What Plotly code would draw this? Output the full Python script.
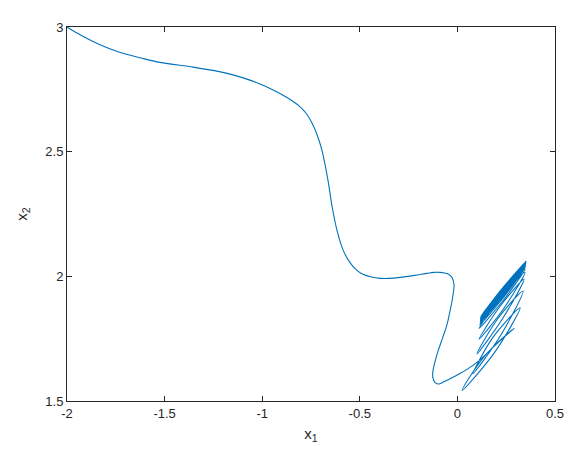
import plotly.graph_objects as go

# trajectory: approach path, then the narrow loops settling
x1_path = [-2.0, -1.933, -1.831, -1.728, -1.626, -1.524, -1.354, -1.232, -1.150, -1.063,
           -1.011, -0.960, -0.893, -0.847, -0.806, -0.776, -0.745, -0.719, -0.694, -0.663,
           -0.642, -0.617, -0.586, -0.550, -0.520, -0.484, -0.44, -0.397, -0.35, -0.294,
           -0.22, -0.156, -0.12, -0.089, -0.050, -0.028, -0.017, -0.022, -0.028, -0.040,
           -0.053, -0.076, -0.099, -0.114, -0.125, -0.126, -0.115, -0.095, -0.074, -0.035,
           0.013, 0.055, 0.100, 0.150, 0.200, 0.250, 0.290]
x2_path = [3.0, 2.969, 2.929, 2.898, 2.877, 2.858, 2.839, 2.823, 2.808, 2.787,
           2.771, 2.753, 2.726, 2.704, 2.680, 2.655, 2.615, 2.568, 2.506, 2.385,
           2.280, 2.185, 2.106, 2.055, 2.028, 2.008, 1.997, 1.992, 1.992, 1.996,
           2.004, 2.012, 2.016, 2.016, 2.010, 1.996, 1.965, 1.930, 1.898, 1.853,
           1.807, 1.752, 1.701, 1.660, 1.622, 1.595, 1.575, 1.568, 1.575, 1.590,
           1.610, 1.630, 1.655, 1.690, 1.730, 1.765, 1.791]

x1_loops = [0.140, 0.024, 0.190, 0.321, 0.183, 0.080, 0.222, 0.336, 0.204, 0.100,
            0.231, 0.341, 0.216, 0.111, 0.239, 0.346, 0.218, 0.111, 0.236, 0.348,
            0.224, 0.114, 0.238, 0.349, 0.226, 0.116, 0.240, 0.350, 0.227, 0.117,
            0.241, 0.351, 0.228, 0.118, 0.240, 0.351, 0.229, 0.118, 0.240, 0.352,
            0.230, 0.119, 0.241, 0.352, 0.230, 0.119, 0.239, 0.352, 0.232, 0.120,
            0.240, 0.352, 0.232, 0.120, 0.240, 0.352]
x2_loops = [1.681, 1.543, 1.694, 1.874, 1.756, 1.610, 1.764, 1.941, 1.827, 1.689,
            1.830, 1.988, 1.877, 1.748, 1.873, 2.016, 1.912, 1.791, 1.905, 2.030,
            1.923, 1.805, 1.917, 2.040, 1.933, 1.815, 1.925, 2.047, 1.940, 1.822,
            1.931, 2.052, 1.946, 1.828, 1.937, 2.055, 1.948, 1.832, 1.941, 2.058,
            1.951, 1.835, 1.943, 2.059, 1.952, 1.837, 1.946, 2.060, 1.952, 1.838,
            1.947, 2.061, 1.953, 1.839, 1.948, 2.061]

x1 = x1_path + x1_loops
x2 = x2_path + x2_loops

AX = "#262626"
TICKFONT = dict(family="Liberation Sans, Arial, sans-serif", size=13, color=AX)
LABELFONT = dict(family="Liberation Sans, Arial, sans-serif", size=15, color=AX)

fig = go.Figure()
fig.add_trace(go.Scatter(
    x=x1, y=x2, mode="lines",
    line=dict(color="#0072BD", width=1.1, shape="spline", smoothing=1.0),
    hoverinfo="skip",
))

axis_common = dict(
    showgrid=False, zeroline=False, showline=True, linecolor=AX, linewidth=1,
    mirror="ticks", ticks="inside", ticklen=5, tickcolor=AX, tickwidth=1,
    tickfont=TICKFONT,
)
fig.update_xaxes(**axis_common, range=[-2, 0.5], tickvals=[-2, -1.5, -1, -0.5, 0, 0.5],
                 ticktext=["-2", "-1.5", "-1", "-0.5", "0", "0.5"],
                 title=dict(text="x<sub>1</sub>", font=LABELFONT, standoff=8))
fig.update_yaxes(**axis_common, range=[1.5, 3], tickvals=[1.5, 2, 2.5, 3],
                 ticktext=["1.5", "2", "2.5", "3"],
                 title=dict(text="x<sub>2</sub>", font=LABELFONT, standoff=14))
fig.update_layout(
    width=579, height=460,
    margin=dict(l=59, r=32, t=12, b=67),
    paper_bgcolor="white", plot_bgcolor="white",
    showlegend=False,
)
fig.write_html("out.html")
